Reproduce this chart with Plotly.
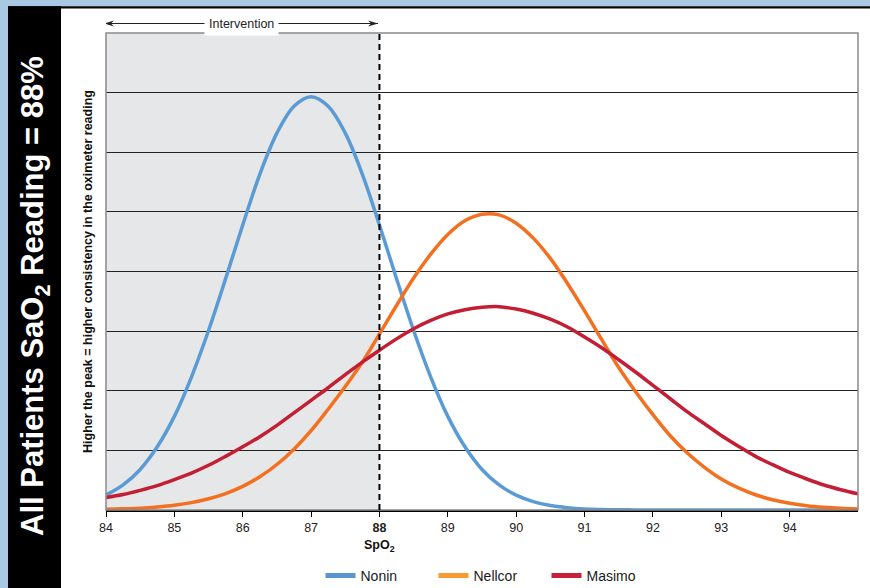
import plotly.graph_objects as go

# ---- data ----
spo2 = [84.0, 84.25, 84.5, 84.75, 85.0, 85.25, 85.5, 85.75, 86.0, 86.25, 86.5, 86.75,
        87.0, 87.25, 87.5, 87.75, 88.0, 88.25, 88.5, 88.75, 89.0, 89.25, 89.5, 89.75,
        90.0, 90.25, 90.5, 90.75, 91.0, 91.25, 91.5, 91.75, 92.0, 92.25, 92.5, 92.75,
        93.0, 93.25, 93.5, 93.75, 94.0, 94.25, 94.5, 94.75, 95.0]

nonin = [0.25, 0.42, 0.68, 1.06, 1.57, 2.23, 3.01, 3.88, 4.78, 5.63, 6.32, 6.77,
         6.93, 6.77, 6.32, 5.63, 4.78, 3.88, 3.01, 2.23, 1.57, 1.06, 0.68, 0.42,
         0.25, 0.14, 0.074, 0.038, 0.018, 0.009, 0.004, 0.002, 0.001, 0.0, 0.0, 0.0,
         0.0, 0.0, 0.0, 0.0, 0.0, 0.0, 0.0, 0.0, 0.0]

nellcor = [0.011, 0.019, 0.031, 0.051, 0.080, 0.124, 0.188, 0.276, 0.397, 0.557, 0.763, 1.02,
           1.33, 1.69, 2.07, 2.48, 2.95, 3.43, 3.89, 4.29, 4.62, 4.85, 4.96, 4.95,
           4.81, 4.56, 4.22, 3.80, 3.34, 2.86, 2.39, 1.98, 1.60, 1.25, 0.96, 0.72,
           0.52, 0.37, 0.256, 0.173, 0.114, 0.073, 0.046, 0.028, 0.017]

masimo = [0.21, 0.26, 0.33, 0.41, 0.51, 0.62, 0.75, 0.90, 1.06, 1.23, 1.42, 1.63,
          1.84, 2.05, 2.27, 2.48, 2.68, 2.87, 3.04, 3.18, 3.29, 3.36, 3.40, 3.41,
          3.37, 3.30, 3.20, 3.07, 2.90, 2.72, 2.52, 2.31, 2.09, 1.87, 1.65, 1.45,
          1.25, 1.07, 0.90, 0.76, 0.63, 0.52, 0.42, 0.34, 0.27]

series_names = ["Nonin", "Nellcor", "Masimo"]
line_colors = ["#5b9bd5", "#f37021", "#c41e34"]
legend_colors = ["#5b95d0", "#f99b30", "#c8203a"]

tick_vals = [84, 85, 86, 87, 88, 89, 90, 91, 92, 93, 94]
tick_text = ["84", "85", "86", "87", "<b>88</b>", "89", "90", "91", "92", "93", "94"]

# ---- layout geometry (pixels) ----
W, H = 870, 588
L, R, T, B = 106, 858, 33, 510
FONT = "Liberation Sans, Arial, sans-serif"


def px_x(px):
    return (px - L) / (R - L)


def px_y(py):
    return (B - py) / (B - T)


fig = go.Figure()

for name, vals, col in zip(series_names, [nonin, nellcor, masimo], line_colors):
    fig.add_trace(go.Scatter(x=spo2, y=vals, mode="lines", name=name,
                             line=dict(color=col, width=3.5, shape="spline", smoothing=1.0),
                             showlegend=False, hoverinfo="skip"))

for name, col in zip(series_names, legend_colors):
    fig.add_trace(go.Scatter(x=[None], y=[None], mode="lines", name=name,
                             line=dict(color=col, width=5), showlegend=True))

arrow_y = px_y(23.5)
shapes = [
    # light blue frame
    dict(type="rect", xref="paper", yref="paper", x0=px_x(0), x1=px_x(W), y0=px_y(0), y1=px_y(6.2),
         fillcolor="#a9c8e4", line=dict(width=0), layer="below"),
    dict(type="rect", xref="paper", yref="paper", x0=px_x(0), x1=px_x(8), y0=px_y(0), y1=px_y(H),
         fillcolor="#a9c8e4", line=dict(width=0), layer="below"),
    # black top rule
    dict(type="rect", xref="paper", yref="paper", x0=px_x(8), x1=px_x(W), y0=px_y(6.2), y1=px_y(8.5),
         fillcolor="#000000", line=dict(width=0), layer="below"),
    # black left panel
    dict(type="rect", xref="paper", yref="paper", x0=px_x(8), x1=px_x(61), y0=px_y(6.2), y1=px_y(H),
         fillcolor="#000000", line=dict(width=0), layer="below"),
    # shaded intervention zone
    dict(type="rect", xref="x", yref="y", x0=84, x1=88, y0=0, y1=8,
         fillcolor="#e6e7e8", line=dict(width=0), layer="below"),
    # plot frame
    dict(type="rect", xref="paper", yref="paper", x0=0, x1=1, y0=0, y1=1,
         line=dict(color="#8a8a8a", width=1.5), layer="above"),
    # dashed threshold line
    dict(type="line", xref="x", yref="y", x0=88, x1=88, y0=0, y1=8,
         line=dict(color="#000000", width=2, dash="6px,4px"), layer="above"),
    # intervention double arrow
    dict(type="line", xref="x", yref="paper", x0=83.97, x1=87.98, y0=arrow_y, y1=arrow_y,
         line=dict(color="#222222", width=1)),
    dict(type="path", xref="x", yref="paper", xsizemode="pixel", ysizemode="pixel",
         xanchor=83.97, yanchor=arrow_y, path="M0,0 L10,3 L7,0 L10,-3 Z",
         fillcolor="#222222", line=dict(width=0)),
    dict(type="path", xref="x", yref="paper", xsizemode="pixel", ysizemode="pixel",
         xanchor=87.98, yanchor=arrow_y, path="M0,0 L-10,3 L-7,0 L-10,-3 Z",
         fillcolor="#222222", line=dict(width=0)),
]

annotations = [
    dict(text="All Patients SaO<sub>2</sub> Reading = 88%", xref="paper", yref="paper",
         x=px_x(35), y=px_y(296), textangle=-90, showarrow=False,
         font=dict(family=FONT, size=31, color="white", weight="bold"),
         xanchor="center", yanchor="middle"),
    dict(text="<b>Higher the peak = higher consistency in the oximeter reading</b>", xref="paper", yref="paper",
         x=px_x(88), y=px_y(272), textangle=-90, showarrow=False,
         font=dict(family=FONT, size=12.5, color="#111111"),
         xanchor="center", yanchor="middle"),
    dict(text="<b>SpO<sub>2</sub></b>", xref="x", yref="paper", x=88, y=px_y(546),
         showarrow=False, font=dict(family=FONT, size=12.5, color="#111111"),
         xanchor="center", yanchor="middle"),
    dict(text="Intervention", x=85.98, y=arrow_y, xref="x", yref="paper", showarrow=False,
         bgcolor="white", borderpad=4,
         font=dict(family=FONT, size=12.5, color="#222222"),
         xanchor="center", yanchor="middle"),
]

fig.update_layout(
    width=W, height=H,
    margin=dict(l=L, r=W - R, t=T, b=H - B, pad=0, autoexpand=False),
    paper_bgcolor="white", plot_bgcolor="white",
    shapes=shapes, annotations=annotations,
    showlegend=True,
    legend=dict(orientation="h", x=px_x(490), y=px_y(576), xanchor="center", yanchor="middle",
                font=dict(family=FONT, size=14, color="#1a1a1a"),
                entrywidth=68, entrywidthmode="pixels",
                tracegroupgap=0, bgcolor="rgba(0,0,0,0)"),
    font=dict(family=FONT),
)

fig.update_xaxes(range=[84, 95], tickvals=tick_vals, ticktext=tick_text,
                 ticks="outside", ticklen=5, tickwidth=1, tickcolor="#000000",
                 showline=True, linecolor="#000000", linewidth=1.5,
                 showgrid=False, zeroline=False,
                 tickfont=dict(size=12.5, color="#222222", family=FONT))
fig.update_yaxes(range=[0, 8], dtick=1, showticklabels=False, ticks="",
                 showgrid=True, gridcolor="#222222", gridwidth=1,
                 showline=False, zeroline=False)

fig.write_html("out.html", config={"displayModeBar": False},
               post_script="document.body.style.margin='0';document.body.style.overflow='hidden';")
